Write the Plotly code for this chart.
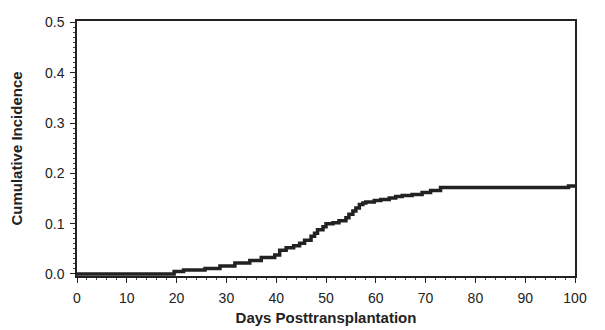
import plotly.graph_objects as go

days = [0, 19.5, 21.4, 25.7, 28.7, 31.7, 34.7, 37.0, 39.7, 40.7, 42.0, 43.5, 44.7,
        45.7, 47.0, 47.7, 48.3, 49.4, 50.0, 51.4, 52.6, 54.0, 54.6, 55.4, 56.0,
        56.7, 57.4, 58.0, 59.7, 61.0, 62.7, 64.0, 65.3, 67.3, 69.3, 71.0, 73.0,
        98.7, 100]
incidence = [0, 0.005, 0.008, 0.011, 0.016, 0.022, 0.027, 0.033, 0.038, 0.047,
             0.052, 0.056, 0.061, 0.067, 0.075, 0.081, 0.088, 0.094, 0.100, 0.102,
             0.106, 0.112, 0.119, 0.125, 0.131, 0.138, 0.141, 0.143, 0.146, 0.148,
             0.151, 0.154, 0.156, 0.158, 0.162, 0.166, 0.172, 0.175, 0.175]

x_ticks = [0, 10, 20, 30, 40, 50, 60, 70, 80, 90, 100]
y_ticks = [0.0, 0.1, 0.2, 0.3, 0.4, 0.5]
y_labels = ["0.0", "0.1", "0.2", "0.3", "0.4", "0.5"]

fig = go.Figure()
fig.add_trace(go.Scatter(x=days, y=incidence, mode="lines",
                         line=dict(shape="hv", color="#222222", width=3.5),
                         showlegend=False, hoverinfo="skip"))

font = dict(family="Liberation Sans, Arial, sans-serif", color="#222222")
fig.update_layout(
    width=597, height=322,
    margin=dict(l=67, r=30, t=6, b=54),
    paper_bgcolor="white", plot_bgcolor="white",
    font=dict(size=14, **font),
    xaxis=dict(range=[0, 100], tickvals=x_ticks, ticks="outside", ticklen=5,
               tickwidth=1, tickcolor="#222", showgrid=False, zeroline=False,
               showline=True, linecolor="#222", linewidth=1.5, mirror=True,
               ticklabelstandoff=3,
               minor=dict(dtick=2, ticks="outside", ticklen=2, tickcolor="#444", showgrid=False),
               tickfont=dict(size=14, **font),
               title=dict(text="<b>Days Posttransplantation</b>", font=dict(size=15, **font), standoff=8)),
    yaxis=dict(range=[-0.004, 0.503], tickvals=y_ticks, ticktext=y_labels, ticks="outside",
               ticklen=5, tickwidth=1, tickcolor="#222", showgrid=False, zeroline=False,
               showline=True, linecolor="#222", linewidth=1.5, mirror=True,
               ticklabelstandoff=3,
               minor=dict(dtick=0.01, ticks="outside", ticklen=2, tickcolor="#444", showgrid=False),
               tickfont=dict(size=14, **font),
               title=dict(text="<b>Cumulative Incidence</b>", font=dict(size=15, **font), standoff=20)),
)
fig.write_html("out.html")
